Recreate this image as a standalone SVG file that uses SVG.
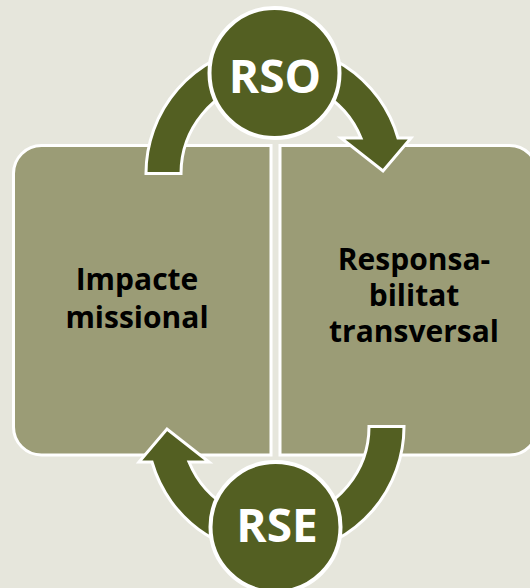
<svg xmlns="http://www.w3.org/2000/svg" width="530" height="588" viewBox="0 0 530 588">
  <defs>
    <style>
      .panel { fill: #9b9c76; stroke: #ffffff; stroke-width: 3; }
      .flow { fill: #535f22; stroke: #ffffff; stroke-width: 3; stroke-linejoin: miter; }
      .hub { fill: #535f22; stroke: #ffffff; stroke-width: 4; }
      .label { font-family: "Open Sans", "Noto Sans", "Liberation Sans", sans-serif; font-weight: 700; font-size: 30px; fill: #000000; text-anchor: middle; }
      .hub-label { font-family: "Open Sans", "Noto Sans", "Liberation Sans", sans-serif; font-weight: 700; font-size: 46px; fill: #ffffff; text-anchor: middle; }
    </style>
    <!-- shared arc-arrow shape, drawn once and reused rotated -->
    <path id="arc-arrow" d="M 146 173.5 A 128.5 128.5 0 0 1 398 138 L 411 138 L 383 171 L 341 138 L 361 138 A 93.5 93.5 0 0 0 181 173.5 Z"/>
  </defs>

  <rect width="530" height="588" fill="#e6e6dc"/>

  <!-- left panel -->
  <g id="impacte-missional">
    <path class="panel" d="M 271 145.5 H 41.5 A 28 28 0 0 0 13.5 173.5 V 427 A 28 28 0 0 0 41.5 455 H 271 Z"/>
    <text class="label" x="137" y="290">Impacte</text>
    <text class="label" x="137" y="328">missional</text>
  </g>

  <!-- right panel -->
  <g id="responsabilitat-transversal">
    <path class="panel" d="M 280 145.5 H 509.5 A 28 28 0 0 1 537.5 173.5 V 427 A 28 28 0 0 1 509.5 455 H 280 Z"/>
    <text class="label" x="414" y="270">Responsa-</text>
    <text class="label" x="414" y="306">bilitat</text>
    <text class="label" x="414" y="342">transversal</text>
  </g>

  <!-- cycle arrows -->
  <g id="connectors">
    <use href="#arc-arrow" class="flow"/>
    <use href="#arc-arrow" class="flow" transform="rotate(180 275 300)"/>
  </g>

  <g id="rso">
    <circle class="hub" cx="274.5" cy="73" r="65"/>
    <text class="hub-label" x="275" y="93">RSO</text>
  </g>

  <g id="rse">
    <circle class="hub" cx="275.5" cy="527" r="65"/>
    <text class="hub-label" x="277" y="542">RSE</text>
  </g>
</svg>
